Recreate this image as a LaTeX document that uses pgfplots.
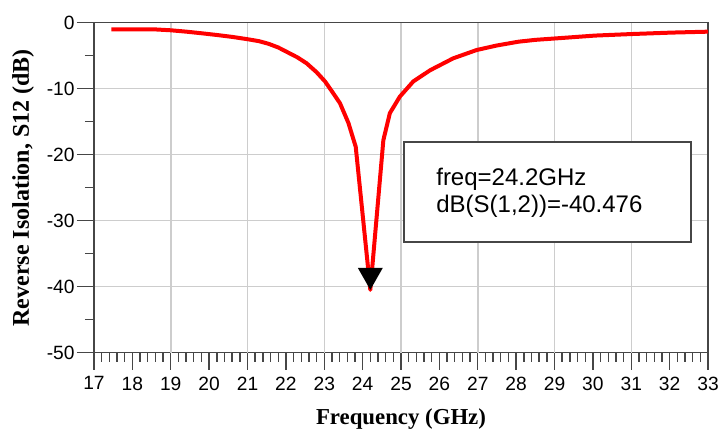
\documentclass[border=0pt]{standalone}
\usepackage{fontspec}
\setmainfont{Liberation Sans}
\newfontfamily\tnr{Liberation Serif}
\usepackage{pgfplots}
\pgfplotsset{compat=1.18}
\usetikzlibrary{calc}
\definecolor{framec}{RGB}{70,70,70}
\definecolor{gridc}{RGB}{205,205,205}
\pgfdeclareplotmark{dtri}{%
  \pgfpathmoveto{\pgfqpoint{0pt}{0pt}}%
  \pgfpathlineto{\pgfqpoint{-6.25pt}{11pt}}%
  \pgfpathlineto{\pgfqpoint{6.25pt}{11pt}}%
  \pgfpathclose\pgfusepathqfill}
\begin{document}
\begin{tikzpicture}
\begin{axis}[
  scale only axis, width=307pt, height=165pt,
  xmin=17, xmax=33, ymin=-50, ymax=0,
  xtick={17,...,33}, ytick={-50,-40,...,0},
  minor x tick num=4, minor y tick num=1,
  tick align=outside, xtick pos=bottom, ytick pos=left,
  major tick length=8.5pt, minor tick length=4.5pt,
  every tick/.style={framec, line width=0.7pt},
  axis line style={framec, line width=0.75pt},
  ymajorgrids=true,
  grid style={gridc, line width=0.75pt},
  extra x ticks={19,21,...,31}, extra x tick labels={},
  extra x tick style={xmajorgrids=true, major tick length=0pt},
  /pgf/number format/assume math mode=true,
  tick label style={font=\fontsize{9.6}{10}\selectfont, black},
  yticklabel style={inner xsep=1pt},
  xlabel={\tnr\bfseries Frequency (GHz)},
  ylabel={\tnr\bfseries Reverse Isolation, S12 (dB)},
  xlabel style={font=\fontsize{11.4}{12}\selectfont, at={(axis description cs:0.5,-0.218)}, anchor=base},
  ylabel style={font=\fontsize{12}{13}\selectfont, at={(axis description cs:-0.1156,0.5)}, anchor=center},
  clip=false,
]
\addplot[red, line width=2pt, line join=round] coordinates {
(17.45,-1.0) (18.0,-1.0) (18.54,-1.0) (19.0,-1.15) (19.41,-1.36)
(19.8,-1.6) (20.2,-1.86) (20.6,-2.15) (21.02,-2.52) (21.3,-2.8)
(21.55,-3.2) (21.8,-3.75) (22.05,-4.5) (22.3,-5.25) (22.54,-6.15)
(22.8,-7.5) (23.02,-8.9) (23.2,-10.4) (23.41,-12.2) (23.63,-15.2)
(23.82,-18.8) (24.2,-40.476)
(24.54,-17.8) (24.71,-13.7) (24.97,-11.2) (25.32,-8.9) (25.76,-7.2)
(26.36,-5.4) (26.97,-4.14) (27.5,-3.45) (28.06,-2.88) (28.5,-2.6)
(29.06,-2.37) (30.06,-1.95) (31.05,-1.71) (32.05,-1.5) (33.0,-1.36)
};
\addplot[only marks, mark=dtri, black] coordinates {(24.2,-40.476)};
\coordinate (sw) at (rel axis cs:0,0);
\coordinate (ne) at (rel axis cs:1,1);
\draw[framec, line width=0.7pt, fill=white] (axis cs:25.08,-18.1) rectangle (axis cs:32.56,-33.2);
\node[anchor=base west, inner sep=0pt, font=\fontsize{12}{13}\selectfont] at (axis cs:25.91,-24.74) {freq=24.2GHz};
\node[anchor=base west, inner sep=0pt, font=\fontsize{12}{13}\selectfont] at (axis cs:25.91,-28.83) {dB(S(1,2))=-40.476};
\end{axis}
\pgfresetboundingbox
\path[use as bounding box] ($(sw)+(-47pt,-38.65pt)$) rectangle ($(ne)+(6pt,11.35pt)$);
\end{tikzpicture}
\end{document}
